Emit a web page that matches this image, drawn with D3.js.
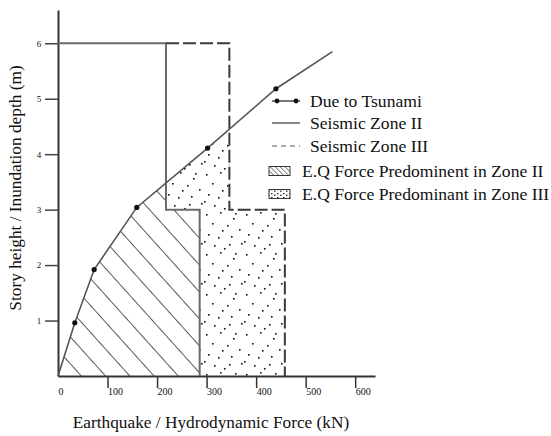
<!DOCTYPE html>
<html>
<head>
<meta charset="utf-8">
<script src="https://cdn.jsdelivr.net/npm/d3@7"></script>
<style>
  body { margin: 0; background: #fff; }
  text { font-family: "Liberation Serif", "Times New Roman", serif; fill: #111; }
</style>
</head>
<body>
<script>
// data
var tsunamiForce = [0, 34, 73, 159, 302, 440, 554];
var tsunamiHeight = [0, 0.96, 1.92, 3.04, 4.11, 5.18, 5.85];

var zone2Force = [0, 218, 218, 286, 286];
var zone2Height = [6, 6, 3, 3, 0];

var zone3Force = [218, 346, 346, 458, 458];
var zone3Height = [6, 6, 3, 3, 0];

var xTicks = [0, 100, 200, 300, 400, 500, 600];
var yTicks = [1, 2, 3, 4, 5, 6];

var legendLabels = ["Due to Tsunami", "Seismic Zone II", "Seismic Zone III",
  "E.Q Force Predominent in Zone II", "E.Q Force Predominant in Zone III"];

var svg_width = 551;
var svg_height = 436;

var svg = d3.select("body")
  .append("svg")
  .attr("width", svg_width)
  .attr("height", svg_height);

var x = d3.scaleLinear().domain([0, 640]).range([58, 375]);
var y = d3.scaleLinear().domain([0, 6.6]).range([376, 10]);

var defs = svg.append("defs");

// hatch for zone II predominance
var hatch = defs.append("pattern")
  .attr("id", "hatch")
  .attr("patternUnits", "userSpaceOnUse")
  .attr("width", 40).attr("height", 18)
  .attr("patternTransform", "translate(82,376) rotate(48)");
hatch.append("line")
  .attr("x1", 0).attr("y1", 0).attr("x2", 40).attr("y2", 0)
  .attr("stroke", "#222").attr("stroke-width", 1.3);

// stipple for zone III predominance
var dotPos = [[3,4],[17,2],[30,8],[9,13],[24,15],[36,19],[5,24],[15,27],
  [28,26],[38,33],[11,35],[21,38],[32,3],[1,31],[19,20],[26,34]];
var dots = defs.append("pattern")
  .attr("id", "dots")
  .attr("patternUnits", "userSpaceOnUse")
  .attr("width", 40).attr("height", 40)
  .attr("patternTransform", "translate(203,210)");
dots.selectAll("rect").data(dotPos).enter().append("rect")
  .attr("x", d => d[0]).attr("y", d => d[1])
  .attr("width", 1.6).attr("height", 1.6)
  .attr("fill", "#111");

// small swatch patterns for the legend
var hatchS = defs.append("pattern")
  .attr("id", "hatchS")
  .attr("patternUnits", "userSpaceOnUse")
  .attr("width", 10).attr("height", 3.5)
  .attr("patternTransform", "rotate(45)");
hatchS.append("line")
  .attr("x1", 0).attr("y1", 0).attr("x2", 10).attr("y2", 0)
  .attr("stroke", "#222").attr("stroke-width", 1.1);
var dotsS = defs.append("pattern")
  .attr("id", "dotsS")
  .attr("patternUnits", "userSpaceOnUse")
  .attr("width", 6).attr("height", 4);
dotsS.append("rect").attr("x", 1).attr("y", 1).attr("width", 1.5).attr("height", 1.2).attr("fill", "#222");
dotsS.append("rect").attr("x", 4).attr("y", 2.6).attr("width", 1.5).attr("height", 1.2).attr("fill", "#222");

var tsunami = tsunamiForce.map((f, i) => [f, tsunamiHeight[i]]);
var zone2 = zone2Force.map((f, i) => [f, zone2Height[i]]);
var zone3 = zone3Force.map((f, i) => [f, zone3Height[i]]);

var line = d3.line().x(d => x(d[0])).y(d => y(d[1]));

// region below the tsunami curve
var below = tsunami.concat([[tsunamiForce[tsunamiForce.length - 1], 0]]);
defs.append("clipPath").attr("id", "belowTsunami")
  .append("path").attr("d", line(below) + "Z");

var zone2Area = [[0, 0]].concat(zone2);
var zone3Area = zone2.slice(0).concat(zone3.slice(0).reverse());

svg.append("path")
  .attr("d", line(zone2Area) + "Z")
  .attr("fill", "url(#hatch)")
  .attr("clip-path", "url(#belowTsunami)");

svg.append("path")
  .attr("d", line(zone3Area) + "Z")
  .attr("fill", "url(#dots)")
  .attr("clip-path", "url(#belowTsunami)");

// axes
var xAxis = svg.append("g")
  .attr("transform", "translate(0," + y(0) + ")")
  .call(d3.axisBottom(x).tickValues(xTicks).tickSize(12).tickSizeOuter(0)
    .tickFormat(d3.format("d")));
xAxis.select(".domain").attr("stroke", "#333").attr("stroke-width", 2);
xAxis.selectAll(".tick line").attr("stroke", "#333").attr("stroke-width", 1.5)
  .attr("y1", 1).attr("opacity", d => d === 0 ? 0 : 1);
xAxis.selectAll(".tick text")
  .attr("text-anchor", "start").attr("y", 19).attr("dy", null).attr("x", 0)
  .style("font-family", "'Liberation Serif', serif").style("font-size", "10px")
  .attr("fill", "#222");

var yAxis = svg.append("g")
  .attr("transform", "translate(" + x(0) + ",0)")
  .call(d3.axisLeft(y).tickValues(yTicks).tickSize(13).tickSizeOuter(0)
    .tickFormat(d3.format("d")));
yAxis.select(".domain").attr("stroke", "#333").attr("stroke-width", 2);
yAxis.selectAll(".tick line").attr("stroke", "#444").attr("stroke-width", 1.5);
yAxis.selectAll(".tick text")
  .attr("text-anchor", "middle").attr("x", -19)
  .style("font-family", "'Liberation Serif', serif").style("font-size", "9px")
  .attr("fill", "#222");

// zone lines
svg.append("path")
  .attr("d", line(zone2))
  .attr("fill", "none").attr("stroke", "#6a6a6a").attr("stroke-width", 2);

svg.append("path")
  .attr("d", line(zone3))
  .attr("fill", "none").attr("stroke", "#3a3a3a").attr("stroke-width", 2)
  .attr("stroke-dasharray", "13,4");

// tsunami curve
svg.append("path")
  .attr("d", line(tsunami))
  .attr("fill", "none").attr("stroke", "#555").attr("stroke-width", 1.6);

svg.selectAll("circle.pt")
  .data(tsunami.slice(1, -1))
  .enter().append("circle")
  .attr("class", "pt")
  .attr("cx", d => x(d[0])).attr("cy", d => y(d[1]))
  .attr("r", 2.6).attr("fill", "#111");

// axis titles
svg.append("text")
  .attr("x", 211).attr("y", 428)
  .attr("text-anchor", "middle")
  .style("font-size", "17.3px")
  .text("Earthquake / Hydrodynamic Force (kN)");

svg.append("text")
  .attr("transform", "translate(21,188) rotate(-90)")
  .attr("text-anchor", "middle")
  .style("font-size", "17.3px")
  .text("Story height / Inundation depth (m)");

// legend
var lg = svg.append("g");
var rowY = [101, 123, 146, 171, 194];

lg.append("line").attr("x1", 272).attr("x2", 300).attr("y1", rowY[0]).attr("y2", rowY[0])
  .attr("stroke", "#555").attr("stroke-width", 1.6);
lg.selectAll("circle").data([277, 296]).enter().append("circle")
  .attr("cx", d => d).attr("cy", rowY[0]).attr("r", 2.4).attr("fill", "#111");

lg.append("line").attr("x1", 272).attr("x2", 300).attr("y1", rowY[1]).attr("y2", rowY[1])
  .attr("stroke", "#888").attr("stroke-width", 2);

lg.append("line").attr("x1", 272).attr("x2", 300).attr("y1", rowY[2]).attr("y2", rowY[2])
  .attr("stroke", "#aaa").attr("stroke-width", 2).attr("stroke-dasharray", "5,4");

lg.append("rect").attr("x", 269).attr("y", rowY[3] - 4.5).attr("width", 21).attr("height", 9)
  .attr("fill", "url(#hatchS)").attr("stroke", "#333").attr("stroke-width", 1);
lg.append("rect").attr("x", 269).attr("y", rowY[4] - 4.5).attr("width", 21).attr("height", 9)
  .attr("fill", "url(#dotsS)").attr("stroke", "#333").attr("stroke-width", 1);

lg.selectAll("text").data(legendLabels).enter().append("text")
  .attr("x", (d, i) => i < 3 ? 310 : 302)
  .attr("y", (d, i) => rowY[i] + 5.5)
  .style("font-size", "17.6px")
  .text(d => d);
</script>
</body>
</html>
